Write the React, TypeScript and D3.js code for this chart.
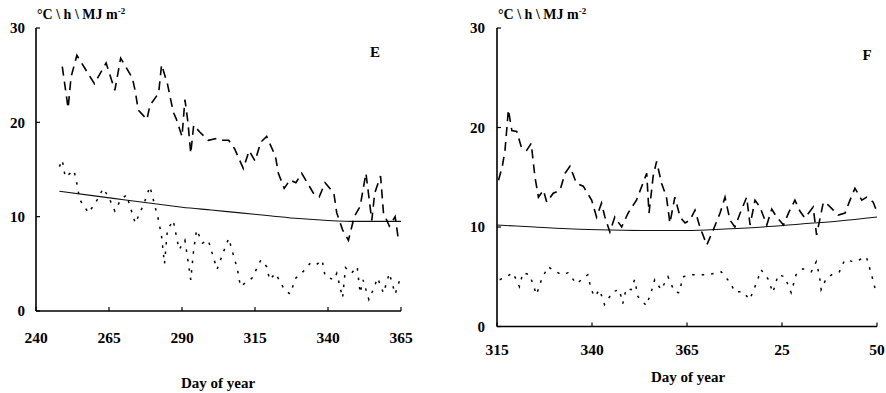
import React from "react";
import * as d3 from "d3";

// ---- Data: panel E ----
const eUpper: [number, number][] = [
  [249, 25.9], [251, 21.5], [252, 24.8], [254, 27.1], [257, 25.6], [260, 24.1], [264, 26.3],
  [267, 23.4], [269, 26.8], [273, 24.7], [274, 23.3], [275, 21.3], [278, 20.3], [279, 21.8],
  [282, 23.1], [283, 26.1], [285, 24.1], [286, 22.6], [287, 21.1], [288, 20.4], [290, 18.5],
  [291, 22.4], [292, 20.1], [293, 16.7], [294, 19.7], [296, 19.0], [299, 18.1], [302, 18.3],
  [304, 18.1], [306, 18.1], [308, 17.2], [311, 15.1], [313, 17.0], [315, 15.9], [317, 17.9],
  [319, 18.5], [322, 16.4], [323, 14.6], [325, 13.0], [327, 13.9], [329, 13.6], [331, 14.6],
  [335, 12.5], [337, 12.1], [339, 13.6], [342, 12.5], [343, 10.4], [345, 8.6], [347, 7.5],
  [349, 10.0], [351, 11.1], [353, 14.6], [355, 9.6], [356, 12.5], [358, 14.3], [359, 10.4],
  [361, 9.0], [363, 10.0], [364, 7.8],
];
const eLower: [number, number][] = [
  [248, 15.3], [249, 16.0], [250, 14.2], [253, 14.9], [254, 13.5], [255, 11.8], [258, 10.4],
  [261, 11.8], [263, 13.0], [265, 12.0], [267, 10.6], [269, 11.8], [271, 12.3], [274, 9.3],
  [277, 11.4], [279, 13.2], [282, 9.6], [283, 7.9], [284, 5.0], [285, 8.6], [287, 9.6],
  [289, 6.5], [291, 7.5], [293, 3.3], [294, 6.5], [295, 8.6], [297, 7.2], [299, 7.5],
  [302, 4.4], [304, 6.1], [306, 7.7], [309, 4.4], [310, 2.6], [314, 3.5], [317, 5.4],
  [319, 4.7], [320, 3.3], [322, 4.0], [325, 2.3], [327, 1.8], [329, 3.5], [331, 4.0],
  [334, 5.1], [336, 4.9], [338, 5.4], [339, 3.7], [342, 3.3], [343, 4.0], [345, 1.4],
  [346, 4.6], [348, 4.0], [350, 4.7], [351, 1.9], [352, 3.3], [354, 1.2], [355, 1.9],
  [357, 3.5], [359, 1.9], [361, 4.0], [363, 1.8], [365, 3.7],
];
const eSmooth: [number, number][] = [
  [248, 12.7], [260, 12.2], [270, 11.8], [280, 11.4], [290, 11.0], [300, 10.7],
  [310, 10.4], [320, 10.1], [330, 9.8], [340, 9.6], [350, 9.5], [365, 9.5],
];

// ---- Data: panel F (days after 365 continue as 366..415) ----
const fUpper: [number, number][] = [
  [315.4, 14.7], [316.4, 16.1], [317.1, 17.7], [318, 21.8], [318.9, 19.7], [320.2, 19.6],
  [321.5, 17.9], [322.8, 17.7], [324, 18.4], [325, 15.0], [325.9, 13.0], [327.2, 13.7],
  [328.1, 12.5], [329.8, 13.4], [331.6, 13.7], [332.9, 15.4], [334.2, 16.1], [335.9, 14.4],
  [337.7, 14.1], [339.9, 12.7], [341.2, 11.0], [342.5, 12.4], [343.4, 11.0], [344.7, 9.5],
  [346, 11.0], [347.8, 10.0], [349.5, 11.4], [351.7, 12.7], [353.1, 14.1], [354.4, 15.4],
  [355, 11.4], [356.1, 15.1], [357, 16.6], [358.3, 14.4], [359.6, 13.0], [360.5, 10.4],
  [361.8, 13.0], [363.2, 11.0], [364.5, 10.4], [365.8, 10.7], [367.1, 11.7], [368.4, 10.0],
  [370.2, 8.2], [371.9, 9.7], [373.7, 11.4], [375, 13.0], [376.3, 10.7], [377.6, 10.0],
  [379, 11.4], [380.7, 13.0], [381.6, 10.2], [382.9, 12.7], [384.2, 12.0], [386, 10.2],
  [387.3, 11.8], [388.6, 11.0], [390.4, 10.2], [391.7, 11.4], [393.4, 12.7], [394.7, 11.6],
  [396, 10.9], [398.2, 12.0], [399.1, 9.2], [400.9, 12.5], [402.2, 12.2], [403.5, 11.7],
  [404.8, 11.2], [406.6, 11.4], [407.9, 12.7], [409.2, 13.9], [411, 12.7], [412.3, 13.0],
  [414, 12.5], [415, 11.5],
];
const fLower: [number, number][] = [
  [315.7, 4.7], [317.4, 5.0], [319.2, 5.4], [320.9, 4.0], [321.8, 5.4], [323.6, 5.2],
  [325.4, 3.2], [326.7, 4.7], [328.4, 6.0], [332, 5.2], [333.7, 5.4], [335.9, 4.3],
  [338.9, 5.2], [339.8, 3.7], [340.7, 3.0], [342, 3.7], [343.3, 2.2], [345.5, 3.5],
  [347.2, 3.7], [348.1, 2.3], [349, 3.8], [350.3, 3.7], [351.2, 4.7], [352.1, 3.0],
  [354.3, 2.1], [355.6, 3.5], [356.5, 4.7], [358.2, 3.7], [360, 5.0], [361.7, 3.5],
  [363, 3.4], [363.9, 5.0], [366.5, 5.2], [370.5, 5.2], [374, 5.5], [376.6, 4.3],
  [377.5, 3.5], [379.7, 3.5], [381.5, 2.7], [383.2, 4.3], [384.5, 5.7], [386.3, 4.8],
  [387.6, 3.4], [389, 5.2], [390.7, 5.0], [392.4, 3.4], [393.7, 5.2], [395.5, 5.8],
  [397.7, 5.5], [399, 6.5], [399.9, 5.0], [400.3, 3.7], [401.6, 4.8], [403.4, 5.3],
  [405.1, 5.5], [406.5, 6.7], [409.1, 6.5], [412.2, 7.0], [413.5, 5.3], [414.5, 3.8],
];
const fSmooth: [number, number][] = [
  [315, 10.2], [325, 10.0], [335, 9.8], [345, 9.7], [355, 9.65], [365, 9.65],
  [375, 9.8], [385, 10.0], [395, 10.3], [405, 10.6], [415, 11.0],
];

const yTicks = [0, 10, 20, 30];
const eXTicks = [240, 265, 290, 315, 340, 365];
const eXLabels = ["240", "265", "290", "315", "340", "365"];
const fXTicks = [315, 340, 365, 390, 415];
const fXLabels = ["315", "340", "365", "25", "50"];

const FONT = "'Liberation Serif', 'Times New Roman', serif";

type PanelProps = {
  xDomain: [number, number];
  xRange: [number, number];
  yRange: [number, number];
  xTicks: number[];
  xLabels: string[];
  upper: [number, number][];
  lower: [number, number][];
  smooth: [number, number][];
  letter: string;
  letterPos: [number, number];
  yLabelX: number;
  xLabelY: number;
  titleY: number;
};

function Panel(p: PanelProps) {
  const x = d3.scaleLinear().domain(p.xDomain).range(p.xRange);
  const y = d3.scaleLinear().domain([0, 30]).range(p.yRange);
  const line = d3
    .line<[number, number]>()
    .x((d) => x(d[0]))
    .y((d) => y(d[1]));
  const smoothLine = d3
    .line<[number, number]>()
    .x((d) => x(d[0]))
    .y((d) => y(d[1]))
    .curve(d3.curveMonotoneX);
  const x0 = p.xRange[0];
  const x1 = p.xRange[1];
  const yb = y(0);
  const yt = y(30);
  return (
    <g fontFamily={FONT} fontWeight="bold" fill="#000">
      {/* data */}
      <path d={smoothLine(p.smooth) || ""} fill="none" stroke="#111" strokeWidth={1.1} />
      <path d={line(p.upper) || ""} fill="none" stroke="#000" strokeWidth={1.6} strokeDasharray="9,6" />
      <path d={line(p.lower) || ""} fill="none" stroke="#000" strokeWidth={1.5} strokeDasharray="2.5,7" />
      {/* axes */}
      <line x1={x0} x2={x0} y1={yt} y2={yb} stroke="#000" strokeWidth={1.6} />
      <line x1={x0} x2={x1} y1={yb} y2={yb} stroke="#000" strokeWidth={1.6} />
      {yTicks.map((t) => (
        <g key={"y" + t}>
          <line x1={x0} x2={x0 + 4} y1={y(t)} y2={y(t)} stroke="#000" strokeWidth={1.2} />
          <text x={p.yLabelX} y={y(t)} dy="0.35em" textAnchor="end" fontSize={15}>
            {t}
          </text>
        </g>
      ))}
      {p.xTicks.map((t, i) => (
        <g key={"x" + t}>
          <line x1={x(t)} x2={x(t)} y1={yb} y2={yb - 4} stroke="#000" strokeWidth={1.2} />
          <text x={x(t)} y={p.xLabelY} dy="0.35em" textAnchor="middle" fontSize={15.5}>
            {p.xLabels[i]}
          </text>
        </g>
      ))}
      <text x={x0 + 1} y={p.titleY} fontSize={14}>
        °C \ h \ MJ m
        <tspan dy={-5} fontSize={9}>-2</tspan>
      </text>
      <text x={p.letterPos[0]} y={p.letterPos[1]} dy="0.35em" textAnchor="middle" fontSize={15}>
        {p.letter}
      </text>
    </g>
  );
}

export default function App() {
  return (
    <svg
      width={886}
      height={393}
      style={{ position: "absolute", left: 0, top: 0, background: "#fff" }}
    >
      <rect width={886} height={393} fill="#fff" />
      <Panel
        xDomain={[240, 365]}
        xRange={[36, 401]}
        yRange={[311, 28]}
        xTicks={eXTicks}
        xLabels={eXLabels}
        upper={eUpper}
        lower={eLower}
        smooth={eSmooth}
        letter="E"
        letterPos={[375, 52]}
        yLabelX={25}
        xLabelY={338}
        titleY={19}
      />
      <Panel
        xDomain={[315, 415]}
        xRange={[497, 877]}
        yRange={[326.5, 28]}
        xTicks={fXTicks}
        xLabels={fXLabels}
        upper={fUpper}
        lower={fLower}
        smooth={fSmooth}
        letter="F"
        letterPos={[867, 55]}
        yLabelX={485}
        xLabelY={350}
        titleY={19}
      />
      <text x={218} y={383} textAnchor="middle" fontSize={15} fontFamily={FONT} fontWeight="bold" dy="0.35em">
        Day of year
      </text>
      <text x={688} y={377} textAnchor="middle" fontSize={15} fontFamily={FONT} fontWeight="bold" dy="0.35em">
        Day of year
      </text>
    </svg>
  );
}
